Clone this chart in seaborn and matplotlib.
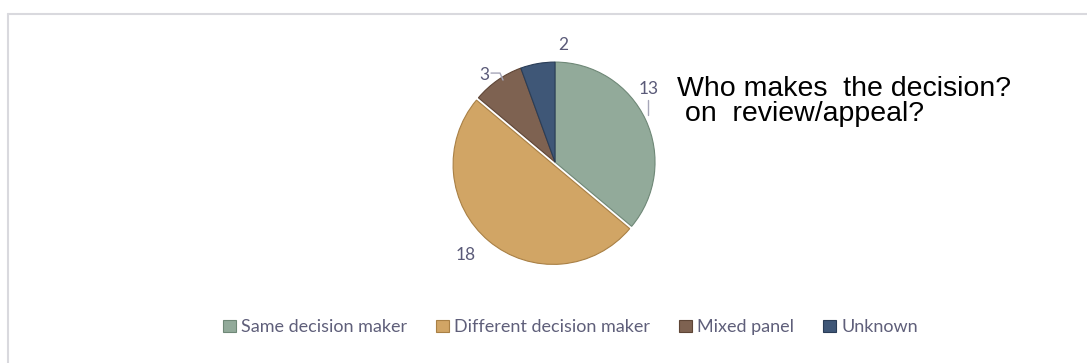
import numpy as np
import matplotlib.pyplot as plt
import seaborn as sns
from matplotlib.lines import Line2D

sns.set_style("white")
plt.rcParams['font.family'] = ['Lato', 'DejaVu Sans']

# data
categories = ["Same decision maker", "Different decision maker", "Mixed panel", "Unknown"]
counts = [13, 18, 3, 2]
colors = ["#92AA9A", "#D1A565", "#7E6251", "#3F5777"]
edges = ["#6F8877", "#A98045", "#5E4536", "#2A3D57"]

fig = plt.figure(figsize=(10.87, 3.63), dpi=100)

# light frame (left and top edges only visible in the crop)
fig.add_artist(Line2D([0.0075, 0.0075], [0, 0.961], transform=fig.transFigure, color="#D9D9DE", lw=1.5))
fig.add_artist(Line2D([0.0075, 1.0], [0.961, 0.961], transform=fig.transFigure, color="#D9D9DE", lw=1.5))

ax = fig.add_axes([0.4186, 0.278, 0.184, 0.551])
wedges, _ = ax.pie(counts, colors=colors, startangle=90, counterclock=False,
                   explode=[0, 0.03, 0, 0],
                   wedgeprops=dict(linewidth=0.8, edgecolor="white"))
for w, ec in zip(wedges, edges):
    w.set_edgecolor(ec)
ax.set_xlim(-1, 1)
ax.set_ylim(-1, 1)
ax.set_aspect("equal")
ax.axis("off")

# value labels: (radius, angle in degrees) for each slice's label
label_pos = [(1.19, 38), (1.29, -134), (1.12, 129), (1.17, 86)]
lab_col = "#5A5A78"
for val, (r, a) in zip(counts, label_pos):
    t = np.deg2rad(a)
    ax.text(r * np.cos(t), r * np.sin(t), str(val), ha="center", va="center",
            fontsize=12.5, color=lab_col, clip_on=False)

# leader lines
ax.plot([0.93, 0.93], [0.62, 0.47], color="#A6A6B8", lw=1, clip_on=False)
ax.plot([-0.64, -0.55, -0.52], [0.89, 0.89, 0.82], color="#A6A6B8", lw=1, clip_on=False)

fig.text(0.623, 0.72, "Who makes  the decision?\n on  review/appeal?",
         fontsize=20.5, family=["Liberation Sans", "DejaVu Sans"], color="black",
         ha="left", va="center", linespacing=0.95)

fig.legend(wedges, categories, loc="center", bbox_to_anchor=(0.525, 0.098),
           ncol=4, frameon=False, fontsize=13, labelcolor="#5F5F7A",
           handlelength=0.7, handleheight=0.7, handletextpad=0.3, columnspacing=1.6)

fig.savefig("out.png", dpi=100)
